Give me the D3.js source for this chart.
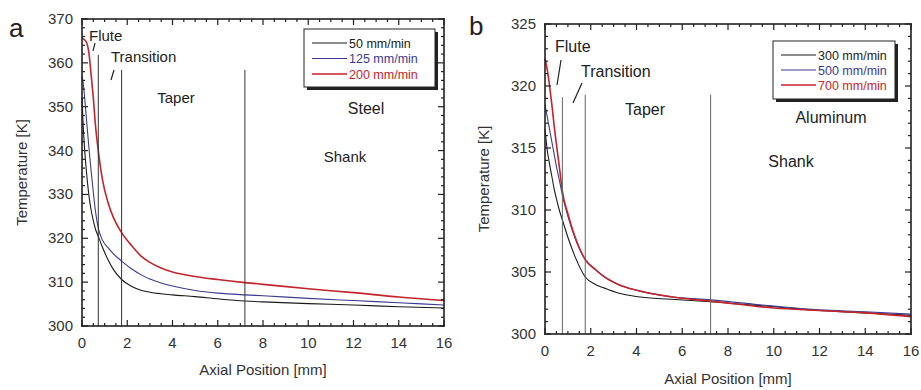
<!DOCTYPE html>
<html><head><meta charset="utf-8">
<script src="https://cdn.jsdelivr.net/npm/d3@7"></script>
</head><body style="margin:0"><svg id="c" width="921" height="390" style="font-family:'Liberation Sans',Arial,sans-serif"></svg>
<script>
// Panel a (Steel)
const xA = [0,0.05,0.1,0.2,0.3,0.4,0.5,0.6,0.72,0.9,1.16,1.4,1.75,2.2,2.64,3,3.5,4,5,6,7.2,8,10,12,14,16];
const steel50  = [352,346,341.5,335,330,326.5,324,322,320.4,318,315,312.8,310.6,309.0,308.1,307.7,307.35,307.1,306.7,306.2,305.7,305.5,305.1,304.8,304.4,304.1];
const steel125 = [357,355.5,353,347,341,335.5,330.5,326,322.3,319.6,317.8,316.4,314.8,313.0,311.6,310.7,309.8,309.1,308.1,307.5,307.1,306.9,306.3,305.8,305.3,304.8];
const steel200 = [365.5,365.5,365.3,364.7,362.5,357.5,352,345.5,340,333.5,328,324.6,321.3,318.3,315.8,314.5,313.2,312.3,311.3,310.6,309.9,309.5,308.5,307.6,306.6,305.8];
const legendA = ["50 mm/min","125 mm/min","200 mm/min"];
const regionA = [0.72,1.75,7.2];
const yTicksA = [300,310,320,330,340,350,360,370];
// Panel b (Aluminum)
const xB = [0,0.1,0.2,0.3,0.4,0.5,0.64,0.76,1.0,1.3,1.76,2.2,2.6,3.2,4.07,5.5,7.24,10,12,14,16];
const alu300 = [316.5,314.8,313.7,312.7,311.7,310.9,309.9,309.2,307.8,306.3,304.6,304,303.7,303.3,303.0,302.8,302.6,302.2,301.9,301.7,301.5];
const alu500 = [318.5,317.5,316.5,315.5,314.5,313.5,312.3,311.2,309.5,307.8,306,305.2,304.6,304,303.5,303.0,302.75,302.25,301.95,301.8,301.6];
const alu700 = [322.2,321.3,320,318.5,316.8,315.3,313.3,311.5,309.7,307.9,306,305.2,304.6,304,303.5,303.0,302.65,302.1,301.9,301.7,301.4];
const legendB = ["300 mm/min","500 mm/min","700 mm/min"];
const regionB = [0.76,1.76,7.24];
const yTicksB = [300,305,310,315,320,325];
const xTicks = [0,2,4,6,8,10,12,14,16];

const colors = ["#1a1a1a","#3b3b8f","#c4242b"];
const textColors = ["#222","#3b3b8f","#c4242b"];
const svg = d3.select("#c");

const P = [
  {l:82,r:444,t:19,b:326,yd:[300,370],yMaj:yTicksA,yMin:2,xs:xA,series:[steel50,steel125,steel200],
   regions:regionA,regTop:[361.8,358.4,358.4],regColor:"#333",leg:{x:304,y:29,w:131,h:58,first:14,dy:15.5},
   legend:legendA,xtY:375,ytX:27,pl:[9,37],label:"a",
   notes:[["Flute",89,41,"start",15],["Transition",111,62,"start",15],["Taper",176,103,"middle",15],["Steel",366,114,"middle",16],["Shank",345,162,"middle",15]],
   slashes:[[95,43,93,51],[114,70,111,80]]},
  {l:545,r:911,t:24,b:334,yd:[300,325],yMaj:yTicksB,yMin:1,xs:xB,series:[alu300,alu500,alu700],
   regions:regionB,regTop:[319.1,319.3,319.3],regColor:"#666",leg:{x:773,y:41,w:122,h:58,first:14,dy:15},
   legend:legendB,xtY:384,ytX:489,pl:[469,35],label:"b",
   notes:[["Flute",555,52,"start",16],["Transition",581,77,"start",16],["Taper",645,115,"middle",16],["Aluminum",831,123,"middle",16],["Shank",791,167,"middle",16]],
   slashes:[[561,60,557,85],[582,83,573,103]]}
];

for (const cfg of P) {
  const x = d3.scaleLinear().domain([0,16]).range([cfg.l,cfg.r]);
  const y = d3.scaleLinear().domain(cfg.yd).range([cfg.b,cfg.t]);
  const xMin = d3.range(0.5,16,0.5).filter(v=>v%2);
  const yMinV = d3.range(cfg.yd[0],cfg.yd[1]+0.01,cfg.yMin).filter(v=>!cfg.yMaj.includes(v));
  const W = cfg.r-cfg.l, H = cfg.b-cfg.t;

  // curves
  const lineGen = d3.line().x(d=>x(d[0])).y(d=>y(d[1])).curve(d3.curveMonotoneX);
  cfg.series.forEach((s,i)=>{
    svg.append("path").datum(cfg.xs.map((v,j)=>[v,s[j]])).attr("d",lineGen)
      .attr("fill","none").attr("stroke",colors[i]).attr("stroke-width",i==2?1.6:1.1);
  });
  // region lines
  cfg.regions.forEach((v,i)=>{
    svg.append("line").attr("x1",x(v)).attr("x2",x(v)).attr("y1",cfg.b).attr("y2",y(cfg.regTop[i]))
      .attr("stroke",cfg.regColor).attr("stroke-width",1);
  });

  // frame as filled strips
  const fr = svg.append("g").attr("fill","#222");
  fr.append("rect").attr("x",cfg.l-0.8).attr("y",cfg.t-0.8).attr("width",W+1.6).attr("height",1.6);
  fr.append("rect").attr("x",cfg.l-0.8).attr("y",cfg.b-0.8).attr("width",W+1.6).attr("height",1.6);
  fr.append("rect").attr("x",cfg.l-0.8).attr("y",cfg.t-0.8).attr("width",1.6).attr("height",H+1.6);
  fr.append("rect").attr("x",cfg.r-0.8).attr("y",cfg.t-0.8).attr("width",1.6).attr("height",H+1.6);
  // ticks as filled rects (inward, four sides)
  const xt = xTicks.map(v=>[v,6]).concat(xMin.map(v=>[v,3]));
  xt.forEach(([v,len])=>{
    fr.append("rect").attr("x",x(v)-0.6).attr("y",cfg.b-len).attr("width",1.2).attr("height",len);
    fr.append("rect").attr("x",x(v)-0.6).attr("y",cfg.t).attr("width",1.2).attr("height",len);
  });
  const yt = cfg.yMaj.map(v=>[v,6]).concat(yMinV.map(v=>[v,3]));
  yt.forEach(([v,len])=>{
    fr.append("rect").attr("x",cfg.l).attr("y",y(v)-0.6).attr("width",len).attr("height",1.2);
    fr.append("rect").attr("x",cfg.r-len).attr("y",y(v)-0.6).attr("width",len).attr("height",1.2);
  });
  // tick labels
  xTicks.forEach(v=>{
    svg.append("text").attr("x",x(v)).attr("y",cfg.b+22).attr("text-anchor","middle")
      .attr("font-size",15).attr("fill","#333").text(d3.format("d")(v));
  });
  cfg.yMaj.forEach(v=>{
    svg.append("text").attr("x",cfg.l-9).attr("y",y(v)+5).attr("text-anchor","end")
      .attr("font-size",15).attr("fill","#333").text(d3.format("d")(v));
  });

  // legend
  const L = cfg.leg;
  svg.append("rect").attr("x",L.x+3).attr("y",L.y+3).attr("width",L.w).attr("height",L.h).attr("fill","#222");
  svg.append("rect").attr("x",L.x).attr("y",L.y).attr("width",L.w).attr("height",L.h).attr("fill","#fff").attr("stroke","#222").attr("stroke-width",1);
  cfg.legend.forEach((t,i)=>{
    const yy = L.y+L.first+i*L.dy;
    svg.append("line").attr("x1",L.x+8).attr("x2",L.x+43).attr("y1",yy).attr("y2",yy)
      .attr("stroke",colors[i]).attr("stroke-width",i==2?1.6:1.1);
    svg.append("text").attr("x",L.x+45).attr("y",yy+4.5).attr("font-size",12.5).attr("fill",textColors[i]).text(t);
  });
  // titles
  svg.append("text").attr("x",(cfg.l+cfg.r)/2).attr("y",cfg.xtY).attr("text-anchor","middle")
    .attr("font-size",15).attr("fill","#333").text("Axial Position [mm]");
  svg.append("text").attr("transform",`translate(${cfg.ytX},${(cfg.t+cfg.b)/2}) rotate(-90)`)
    .attr("text-anchor","middle").attr("font-size",15).attr("fill","#333").text("Temperature [K]");
  svg.append("text").attr("x",cfg.pl[0]).attr("y",cfg.pl[1]).attr("font-size",26).attr("fill","#222").text(cfg.label);
  cfg.notes.forEach(n=>{
    svg.append("text").attr("x",n[1]).attr("y",n[2]).attr("text-anchor",n[3])
      .attr("font-size",n[4]).attr("fill","#222").text(n[0]);
  });
  cfg.slashes.forEach(s=>{
    svg.append("line").attr("x1",s[0]).attr("y1",s[1]).attr("x2",s[2]).attr("y2",s[3]).attr("stroke","#222").attr("stroke-width",1.2);
  });
}
</script></body></html>
